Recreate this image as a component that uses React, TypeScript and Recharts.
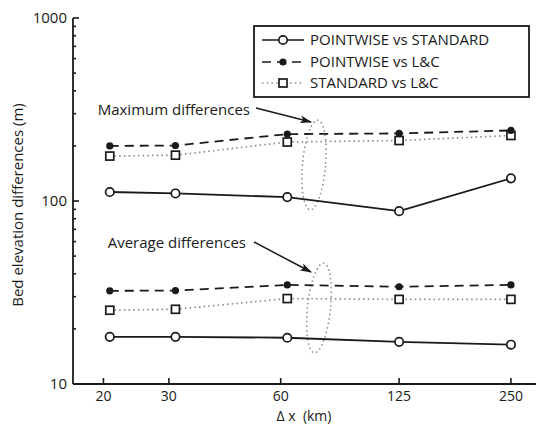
import React from 'react';
import { LineChart, Line, XAxis, YAxis } from 'recharts';

// grid spacing (km) of each run
const dxKm = [20.8, 31.25, 62.5, 125, 250];
const xTicks = [20, 30, 60, 125, 250];
const yMajorTicks = [10, 100, 1000];
const yMinorTicks = [20, 30, 40, 50, 60, 70, 80, 90, 200, 300, 400, 500, 600, 700, 800, 900];

// maximum differences (m)
const maxPointwiseVsStandard = [112, 110, 105, 88, 133];
const maxPointwiseVsLC = [200, 201, 232, 234, 243];
const maxStandardVsLC = [176, 178, 210, 214, 228];

// average differences (m)
const avgPointwiseVsStandard = [18.1, 18.1, 17.9, 17.0, 16.4];
const avgPointwiseVsLC = [32.3, 32.4, 34.8, 34.0, 34.8];
const avgStandardVsLC = [25.3, 25.6, 29.3, 29.0, 29.0];

const data = dxKm.map((dx, i) => ({
  dx,
  maxPS: maxPointwiseVsStandard[i],
  maxPL: maxPointwiseVsLC[i],
  maxSL: maxStandardVsLC[i],
  avgPS: avgPointwiseVsStandard[i],
  avgPL: avgPointwiseVsLC[i],
  avgSL: avgStandardVsLC[i],
}));

const FONT = '"Open Sans", "DejaVu Sans", sans-serif';
const INK = '#1a1a1a';
const DOT_GREY = '#8a8a8a';

const openCircle = (props: any) => (
  <circle key={`c-${props.dataKey}-${props.index}`} cx={props.cx} cy={props.cy} r={4.2}
    fill="#fff" stroke={INK} strokeWidth={1.7} />
);
const filledDot = (props: any) => (
  <circle key={`f-${props.dataKey}-${props.index}`} cx={props.cx} cy={props.cy} r={3.6} fill={INK} />
);
const openSquare = (props: any) => (
  <rect key={`s-${props.dataKey}-${props.index}`} x={props.cx - 4} y={props.cy - 4} width={8} height={8}
    fill="#fff" stroke={INK} strokeWidth={1.7} />
);

const BottomTick = (props: any) => {
  const { x, y, payload } = props;
  return (
    <g>
      <line x1={x} y1={y} x2={x} y2={y - 6} stroke={INK} strokeWidth={1.6} />
      <text x={x} y={y + 17} textAnchor="middle" fontSize={14} fontFamily={FONT} fill={INK}>
        {payload.value}
      </text>
    </g>
  );
};
const TopTick = (props: any) => (
  <line x1={props.x} y1={props.y} x2={props.x} y2={props.y + 6} stroke={INK} strokeWidth={1.6} />
);
const LeftTick = (props: any) => {
  const { x, y, payload } = props;
  const major = yMajorTicks.includes(payload.value);
  return (
    <g>
      <line x1={x} y1={y} x2={x + (major ? 6 : 3)} y2={y} stroke={INK} strokeWidth={1.6} />
      {major && (
        <text x={x - 6} y={y + 5} textAnchor="end" fontSize={15} fontFamily={FONT} fill={INK}>
          {payload.value}
        </text>
      )}
    </g>
  );
};
const RightTick = (props: any) => {
  const { x, y, payload } = props;
  const major = yMajorTicks.includes(payload.value);
  return <line x1={x} y1={y} x2={x - (major ? 6 : 3)} y2={y} stroke={INK} strokeWidth={1.6} />;
};

const LegendRow = ({ y, label, dash, color, marker }: any) => (
  <g>
    <line x1={262} y1={y} x2={304} y2={y} stroke={color} strokeWidth={1.7} strokeDasharray={dash} />
    {marker === 'circle' && <circle cx={283} cy={y} r={4.2} fill="#fff" stroke={INK} strokeWidth={1.7} />}
    {marker === 'dot' && <circle cx={283} cy={y} r={3.6} fill={INK} />}
    {marker === 'square' && <rect x={279} y={y - 4} width={8} height={8} fill="#fff" stroke={INK} strokeWidth={1.7} />}
    <text x={310} y={y + 5} fontSize={15} fontFamily={FONT} fill={INK}>{label}</text>
  </g>
);

const App: React.FC = () => {
  return (
    <div style={{ position: 'absolute', left: 0, top: 0, background: '#fff' }}>
      <LineChart width={537} height={426} data={data} margin={{ top: 18, right: 1, left: 0, bottom: 0 }}>
        <XAxis dataKey="dx" type="number" scale="log" domain={[16.56, 292]} allowDataOverflow
          ticks={xTicks} interval={0} height={42} tickSize={0} tickMargin={0}
          axisLine={{ stroke: INK, strokeWidth: 1.8 }} tickLine={false} tick={<BottomTick />} />
        <XAxis xAxisId="top" orientation="top" dataKey="dx" type="number" scale="log" domain={[16.56, 292]}
          allowDataOverflow ticks={xTicks} interval={0} height={0} tickSize={0} tickMargin={0}
          axisLine={{ stroke: INK, strokeWidth: 1.8 }} tickLine={false} tick={<TopTick />} />
        <YAxis type="number" scale="log" domain={[10, 1000]} allowDataOverflow
          ticks={[...yMajorTicks, ...yMinorTicks]} interval={0} width={73} tickSize={0} tickMargin={0}
          axisLine={{ stroke: INK, strokeWidth: 1.8 }} tickLine={false} tick={<LeftTick />} />
        <YAxis yAxisId="right" orientation="right" type="number" scale="log" domain={[10, 1000]} allowDataOverflow
          ticks={[...yMajorTicks, ...yMinorTicks]} interval={0} width={0} tickSize={0} tickMargin={0}
          axisLine={{ stroke: INK, strokeWidth: 1.8 }} tickLine={false} tick={<RightTick />} />

        <Line dataKey="maxSL" stroke={DOT_GREY} strokeWidth={1.7} strokeDasharray="1.5 3.2" dot={openSquare}
          activeDot={false} isAnimationActive={false} />
        <Line dataKey="maxPL" stroke={INK} strokeWidth={1.8} strokeDasharray="9 6" dot={filledDot}
          activeDot={false} isAnimationActive={false} />
        <Line dataKey="maxPS" stroke={INK} strokeWidth={1.8} dot={openCircle}
          activeDot={false} isAnimationActive={false} />
        <Line dataKey="avgSL" stroke={DOT_GREY} strokeWidth={1.7} strokeDasharray="1.5 3.2" dot={openSquare}
          activeDot={false} isAnimationActive={false} />
        <Line dataKey="avgPL" stroke={INK} strokeWidth={1.8} strokeDasharray="9 6" dot={filledDot}
          activeDot={false} isAnimationActive={false} />
        <Line dataKey="avgPS" stroke={INK} strokeWidth={1.8} dot={openCircle}
          activeDot={false} isAnimationActive={false} />

        {/* annotations */}
        <defs>
          <marker id="arrowHead" markerWidth="12" markerHeight="8" refX="11" refY="4" orient="auto"
            markerUnits="userSpaceOnUse">
            <path d="M0,0 L12,4 L0,8 L3,4 Z" fill={INK} />
          </marker>
        </defs>
        <text x={250} y={115} textAnchor="end" fontSize={15} fontFamily={FONT} fill={INK}>Maximum differences</text>
        <line x1={256} y1={108} x2={311} y2={122} stroke={INK} strokeWidth={1.5} markerEnd="url(#arrowHead)" />
        <ellipse cx={314} cy={165} rx={11.5} ry={45} transform="rotate(5 314 165)" fill="none"
          stroke={DOT_GREY} strokeWidth={1.5} strokeDasharray="1.5 3" />
        <text x={246} y={248} textAnchor="end" fontSize={15} fontFamily={FONT} fill={INK}>Average differences</text>
        <line x1={254} y1={242} x2={311} y2={272} stroke={INK} strokeWidth={1.5} markerEnd="url(#arrowHead)" />
        <ellipse cx={319} cy={308} rx={11.5} ry={45} transform="rotate(6 319 308)" fill="none"
          stroke={DOT_GREY} strokeWidth={1.5} strokeDasharray="1.5 3" />

        {/* axis titles */}
        <text x={23} y={205} transform="rotate(-90 23 205)" textAnchor="middle" fontSize={15} fontFamily={FONT}
          fill={INK}>Bed elevation differences (m)</text>
        <text x={304} y={421} textAnchor="middle" fontSize={14} fontFamily={FONT} fill={INK}>{'Δ x\u00a0\u00a0(km)'}</text>

        {/* legend */}
        <g>
          <rect x={254} y={26} width={275} height={71} fill="#fff" stroke={INK} strokeWidth={1.8} />
          <LegendRow y={40} label="POINTWISE vs STANDARD" color={INK} marker="circle" />
          <LegendRow y={62} label="POINTWISE vs L&C" color={INK} dash="9 6" marker="dot" />
          <LegendRow y={83} label="STANDARD vs L&C" color={DOT_GREY} dash="1.5 3.2" marker="square" />
        </g>
      </LineChart>
    </div>
  );
};

export default App;
